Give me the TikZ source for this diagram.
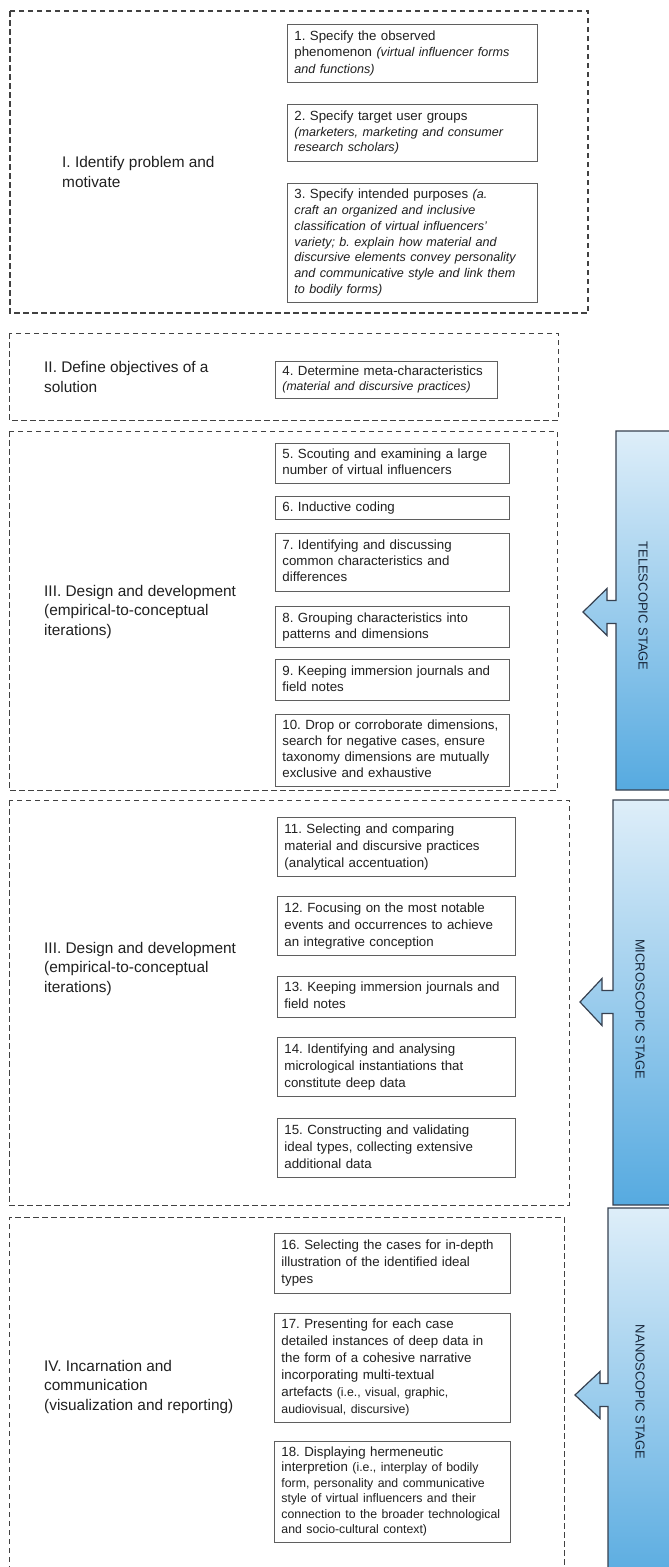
\documentclass[tikz,border=0pt]{standalone}
\usepackage{fontspec}
\setmainfont{Liberation Sans}
\frenchspacing
\definecolor{framegray}{RGB}{65,65,65}
\definecolor{boxgray}{RGB}{95,95,95}
\definecolor{textgray}{RGB}{32,32,32}
\definecolor{barline}{RGB}{55,65,80}
\definecolor{bartop}{RGB}{222,238,249}
\definecolor{barmid}{RGB}{150,204,236}
\definecolor{barbot}{RGB}{86,170,224}
\definecolor{stagetext}{RGB}{25,40,60}
% type sizes
\newcommand{\boxfont}{\fontsize{13.3}{16}\selectfont}
\newcommand{\headfont}{\fontsize{15.4}{19.5}\selectfont}
\newcommand{\note}[1]{{\fontsize{12.6}{\the\baselineskip}\selectfont\itshape #1}}
\newcommand{\aside}[1]{{\fontsize{12.3}{\the\baselineskip}\selectfont #1}}
% box text: one row per printed line, never re-wrapped
\newcommand{\lines}[1]{\begin{tabular}{@{}l@{}}#1\end{tabular}}
% stage bar with its arrow: left, top, bottom, tip x, tip y, head back x
\newcommand{\stagebar}[6]{%
  \shadedraw[draw=barline, line width=1.2pt, top color=bartop, middle color=barmid, bottom color=barbot]
    (690,#2) -- (#1,#2) -- (#1,{#5-11.5}) -- (#6,{#5-11.5}) -- (#6,{#5-23.5})
    -- (#4,#5) -- (#6,{#5+23.5}) -- (#6,{#5+11.5}) -- (#1,{#5+11.5})
    -- (#1,#3) -- (690,#3) -- cycle;}
\begin{document}
\begin{tikzpicture}[x=1pt,y=-1pt,
  frame/.style={draw=framegray, dash pattern=on 5.5pt off 3.5pt, line width=1pt},
  stepbox/.style={draw=boxgray, line width=0.9pt, fill=white, anchor=north west,
    align=left, inner xsep=7pt, inner ysep=3pt, text=textgray, font=\boxfont},
  head/.style={anchor=west, align=left, inner sep=0pt, text=textgray, font=\headfont},
  stagelabel/.style={rotate=-90, text=stagetext, font=\fontsize{13}{15}\selectfont},
  ]
\useasboundingbox (0,0) rectangle (669,1567);
\fill[white] (0,0) rectangle (669,1567);

% stage bars on the right
\begin{scope}
\clip (0,0) rectangle (669,1567);
\stagebar{616}{431}{790}{583}{612}{607}
\stagebar{613}{800}{1205}{580}{1002}{602}
\stagebar{608}{1208}{1590}{575}{1395}{600}
\end{scope}
\node[stagelabel] (tele) at (643,606) {TELESCOPIC STAGE};
\node[stagelabel] (micro) at (640,1009) {MICROSCOPIC STAGE};
\node[stagelabel] (nano) at (640,1392) {NANOSCOPIC STAGE};

% dashed phase frames
\draw[frame, line width=1.4pt] (10,11) rectangle (588,313);
\draw[frame] (9,333) rectangle (558,420);
\draw[frame] (9,431) rectangle (557,790);
\draw[frame] (9,800) rectangle (569,1205);
\draw[frame] (9,1580) -- (9,1217) -- (564,1217) -- (564,1580);

% phase headings
\node[head] (h1) at (62,172) {I. Identify problem and\\motivate};
\node[head] (h2) at (44,377) {II. Define objectives of a\\solution};
\node[head] (h3) at (44,612) {III. Design and development\\(empirical-to-conceptual\\iterations)};
\node[head] (h3b) at (44,969) {III. Design and development\\(empirical-to-conceptual\\iterations)};
\node[head] (h4) at (44,1387) {IV. Incarnation and\\communication\\(visualization and reporting)};

% phase I
\node[stepbox, text width=236pt, minimum height=58pt, font=\fontsize{13.3}{16.7}\selectfont] (b1) at (287,24)
  {\lines{1. Specify the observed\\phenomenon \note{(virtual influencer forms}\\\note{and functions)}}};
\node[stepbox, text width=236pt, minimum height=57pt, font=\fontsize{13.3}{15.8}\selectfont] (b2) at (287,104)
  {\lines{2. Specify target user groups\\\note{(marketers, marketing and consumer}\\\note{research scholars)}}};
\node[stepbox, text width=236pt, minimum height=119pt, font=\fontsize{13.3}{15.7}\selectfont] (b3) at (287,183)
  {\lines{3. Specify intended purposes \note{(a.}\\\note{craft an organized and inclusive}\\\note{classification of virtual influencers'}\\\note{variety; b. explain how material and}\\\note{discursive elements convey personality}\\\note{and communicative style and link them}\\\note{to bodily forms)}}};

% phase II
\node[stepbox, text width=208pt, minimum height=37pt, font=\fontsize{13.3}{15.5}\selectfont] (b4) at (275,361)
  {\lines{4. Determine meta-characteristics\\{\fontsize{12.2}{15.5}\selectfont\itshape (material and discursive practices)}}};

% phase III, telescopic stage
\node[stepbox, text width=220pt, minimum height=40pt] (b5) at (275,443)
  {\lines{5. Scouting and examining a large\\number of virtual influencers}};
\node[stepbox, text width=220pt, minimum height=23pt] (b6) at (275,496)
  {\lines{6. Inductive coding}};
\node[stepbox, text width=220pt, minimum height=58pt] (b7) at (275,533)
  {\lines{7. Identifying and discussing\\common characteristics and\\differences}};
\node[stepbox, text width=220pt, minimum height=41pt] (b8) at (275,606)
  {\lines{8. Grouping characteristics into\\patterns and dimensions}};
\node[stepbox, text width=220pt, minimum height=41pt] (b9) at (275,659)
  {\lines{9. Keeping immersion journals and\\field notes}};
\node[stepbox, text width=220pt, minimum height=72pt] (b10) at (275,714)
  {\lines{10. Drop or corroborate dimensions,\\search for negative cases, ensure\\taxonomy dimensions are mutually\\exclusive and exhaustive}};

% phase III, microscopic stage
\node[stepbox, text width=224pt, minimum height=59pt, font=\fontsize{13.3}{17}\selectfont] (b11) at (277,817)
  {\lines{11. Selecting and comparing\\material and discursive practices\\(analytical accentuation)}};
\node[stepbox, text width=224pt, minimum height=59pt, font=\fontsize{13.3}{17}\selectfont] (b12) at (277,896)
  {\lines{12. Focusing on the most notable\\events and occurrences to achieve\\an integrative conception}};
\node[stepbox, text width=224pt, minimum height=41pt, font=\fontsize{13.3}{17}\selectfont] (b13) at (277,976)
  {\lines{13. Keeping immersion journals and\\field notes}};
\node[stepbox, text width=224pt, minimum height=59pt, font=\fontsize{13.3}{17}\selectfont] (b14) at (277,1037)
  {\lines{14. Identifying and analysing\\micrological instantiations that\\constitute deep data}};
\node[stepbox, text width=224pt, minimum height=59pt, font=\fontsize{13.3}{17}\selectfont] (b15) at (277,1118)
  {\lines{15. Constructing and validating\\ideal types, collecting extensive\\additional data}};

% phase IV, nanoscopic stage
\node[stepbox, text width=222pt, minimum height=60pt, font=\fontsize{13.3}{17}\selectfont] (b16) at (274,1233)
  {\lines{16. Selecting the cases for in-depth\\illustration of the identified ideal\\types}};
\node[stepbox, text width=222pt, minimum height=109pt, font=\fontsize{13.3}{17}\selectfont] (b17) at (274,1313)
  {\lines{17. Presenting for each case\\detailed instances of deep data in\\the form of a cohesive narrative\\incorporating multi-textual\\artefacts \aside{(i.e., visual, graphic,}\\\aside{audiovisual, discursive)}}};
\node[stepbox, text width=222pt, minimum height=101pt, font=\fontsize{13.3}{15.4}\selectfont] (b18) at (274,1441)
  {\lines{18. Displaying hermeneutic\\interpretion \aside{(i.e., interplay of bodily}\\\aside{form, personality and communicative}\\\aside{style of virtual influencers and their}\\\aside{connection to the broader technological}\\\aside{and socio-cultural context)}}};
\end{tikzpicture}
\end{document}
